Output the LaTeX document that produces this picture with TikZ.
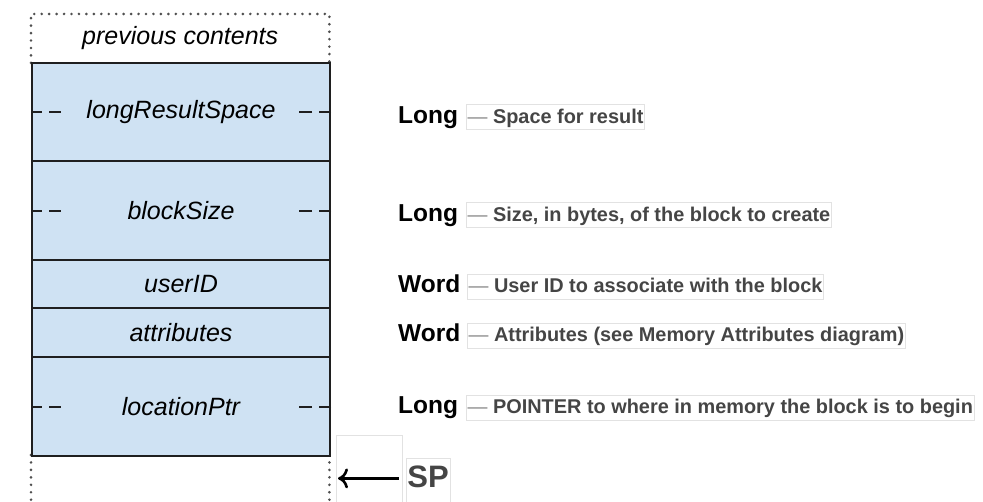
\documentclass[tikz,border=0pt]{standalone}
\usepackage{fontspec}
\setmainfont{Liberation Sans}
\usetikzlibrary{arrows.meta}
\definecolor{cellblue}{HTML}{CFE2F3}
\definecolor{edgec}{HTML}{1F1F1F}
\definecolor{descc}{HTML}{454545}
\definecolor{dashc}{HTML}{8A8A8A}
\definecolor{faintc}{HTML}{E2E2E2}
\definecolor{dotc}{HTML}{505050}
\begin{document}
\begin{tikzpicture}[x=1pt,y=-1pt,
  cell/.style={draw=edgec, line width=2pt, fill=cellblue, minimum width=298pt,
    anchor=north west, inner sep=0pt, font=\fontsize{25}{30}\selectfont\itshape},
  openrow/.style={minimum width=298pt, anchor=north west, inner sep=0pt,
    font=\fontsize{25}{30}\selectfont\itshape},
  dotline/.style={draw=dotc, line width=2.9pt, line cap=round,
    dash pattern=on 0pt off 7.45pt},
  wordsplit/.style={draw=edgec, line width=2pt},
  sizeword/.style={anchor=base west, inner sep=0pt,
    font=\fontsize{24.5}{28}\selectfont\bfseries},
  note/.style={anchor=base west, draw=faintc, line width=0.8pt,
    inner xsep=1.2pt, inner ysep=1.5pt, text height=17.5pt, text depth=4.5pt,
    text=descc, font=\fontsize{19.9}{22}\selectfont\bfseries},
  ptr/.style={draw=black, line width=2.6pt,
    -{Computer Modern Rightarrow[length=10pt,width=20pt]}}
]
\useasboundingbox (0,0) rectangle (983,502);

% open (dotted) slots above and below the parameter block
\node[openrow, minimum height=48.5pt] (prev) at (31,14) {previous contents};
\node[openrow, minimum height=47pt] (free) at (31,455) {};
\draw[dotline] (prev.south west) -- (prev.north west) -- (prev.north east) -- (prev.south east);
\draw[dotline] (free.north west) -- (free.north east);
\draw[dotline] (free.north west) -- ([yshift=-4pt]free.south west);
\draw[dotline] (free.north east) -- ([yshift=-4pt]free.south east);

% parameter block on the stack
\node[cell, minimum height=98pt]   (lrs)  at (31,62.5)  {\raisebox{-1.5pt}{longResultSpace}};
\node[cell, minimum height=98.5pt] (bs)   at (31,160.5) {\raisebox{-1.5pt}{blockSize}};
\node[cell, minimum height=48.5pt] (uid)  at (31,259)   {userID};
\node[cell, minimum height=49pt]   (attr) at (31,307.5) {attributes};
\node[cell, minimum height=98.5pt] (loc)  at (31,356.5) {\raisebox{-1.5pt}{locationPtr}};

% half-marks showing the two words of each long
\foreach \r in {lrs,bs,loc}{
  \draw[wordsplit] (\r.west) -- ++(11,0) ++(7,0) -- ++(12,0);
  \draw[wordsplit] (\r.east) -- ++(-12,0) ++(-7,0) -- ++(-13,0);
}

% sizes and descriptions
\node[sizeword] (s1) at (398,123.3) {Long};
\node[note]     (d1) at (466,123.3) {{\mdseries\color{dashc}—} Space for result};
\node[sizeword] (s2) at (398,221.7) {Long};
\node[note]     (d2) at (466,221.7) {{\mdseries\color{dashc}—} Size, in bytes, of the block to create};
\node[sizeword] (s3) at (398,293)   {Word};
\node[note]     (d3) at (467,293)   {{\mdseries\color{dashc}—} User ID to associate with the block};
\node[sizeword] (s4) at (398,342)   {Word};
\node[note]     (d4) at (467,342)   {{\mdseries\color{dashc}—} Attributes (see Memory Attributes diagram)};
\node[sizeword] (s5) at (398,414)   {Long};
\node[note]     (d5) at (466,414)   {{\mdseries\color{dashc}—} POINTER to where in memory the block is to begin};

% stack pointer
\node[draw=faintc, line width=0.8pt, minimum width=66pt, minimum height=86pt,
  anchor=north west, inner sep=0pt] (gap) at (336,435) {};
\node[anchor=base west, draw=faintc, line width=0.8pt, inner xsep=1.5pt,
  inner ysep=2pt, text height=27pt, text depth=14pt, text=descc,
  font=\fontsize{31}{34}\selectfont\bfseries] (sp) at (405.5,487) {SP};
\draw[ptr] ([xshift=-4pt]gap.east) -- ([xshift=2pt]gap.west);
\end{tikzpicture}
\end{document}
